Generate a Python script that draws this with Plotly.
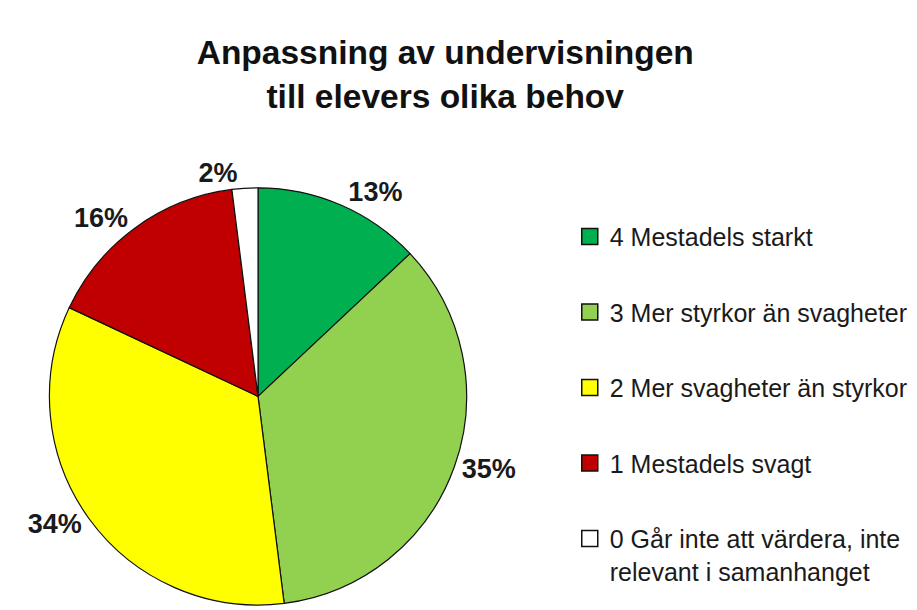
import plotly.graph_objects as go

# Data: rating categories and their share (percent)
categories = [
    "4 Mestadels starkt",
    "3 Mer styrkor än svagheter",
    "2 Mer svagheter än styrkor",
    "1 Mestadels svagt",
    "0 Går inte att värdera, inte<br>relevant i samanhanget",
]
shares = [13, 35, 34, 16, 2]
colors = ["#00B050", "#92D050", "#FFFF00", "#C00000", "#FFFFFF"]

title = "Anpassning av undervisningen<br>till elevers olika behov"
font_family = "Liberation Sans, Arial, sans-serif"

fig = go.Figure()

fig.add_trace(go.Pie(
    labels=categories,
    values=shares,
    sort=False,
    direction="clockwise",
    rotation=0,
    marker=dict(colors=colors, line=dict(color="#111111", width=1.2)),
    texttemplate="<b>%{value}%</b>",
    textposition="outside",
    textfont=dict(family=font_family, size=27, color="#1a1a1a"),
    showlegend=False,
    hoverinfo="label+percent",
    domain=dict(x=[0.044, 0.5061], y=[0.0017, 0.6993]),
))

# legend entries as dummy traces so the gap between items can be set
for name, color in zip(categories, colors):
    fig.add_trace(go.Scatter(
        x=[None], y=[None], mode="markers", name=name,
        legendgroup=name,
        marker=dict(symbol="square", size=16, color=color,
                    line=dict(color="#111111", width=1.5)),
    ))

# page body has an 8px margin, so the figure is 909x602 inside the window
fig.update_layout(
    width=909, height=602,
    margin=dict(l=0, r=0, t=0, b=0),
    paper_bgcolor="white", plot_bgcolor="white",
    title=dict(text="<b>" + title + "</b>", x=0.481, xanchor="center",
               y=0.907, yanchor="top",
               font=dict(family=font_family, size=33.5, color="#111111")),
    xaxis=dict(visible=False), yaxis=dict(visible=False),
    legend=dict(x=0.618, xanchor="left", y=0.656, yanchor="top",
                font=dict(family=font_family, size=25, color="#1a1a1a"),
                tracegroupgap=40, valign="top", itemwidth=30,
                bgcolor="rgba(0,0,0,0)"),
)

fig.write_html("out.html")
